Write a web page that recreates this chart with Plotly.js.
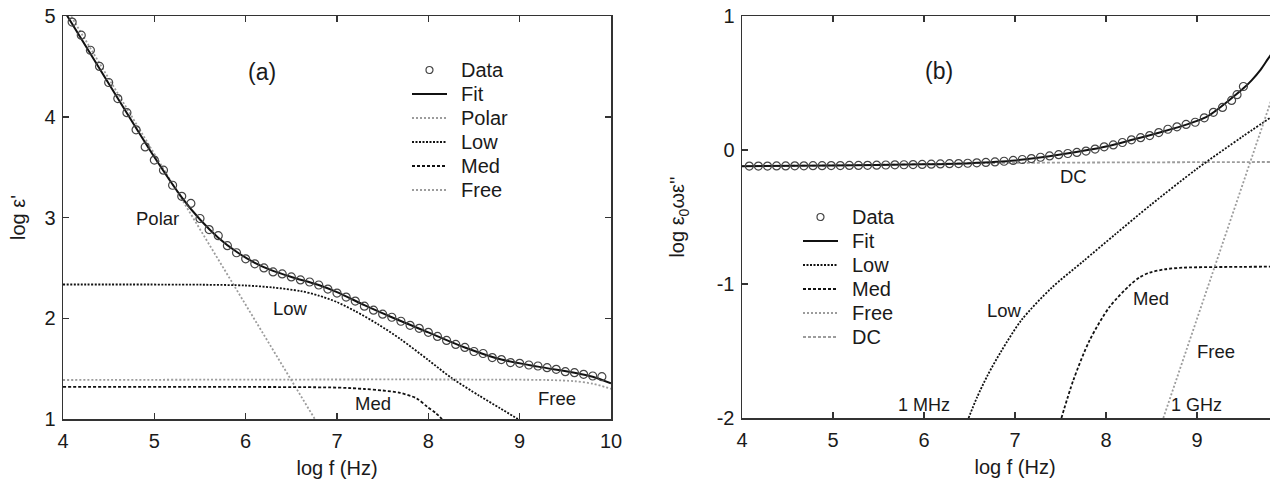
<!DOCTYPE html>
<html>
<head>
<meta charset="utf-8">
<script src="https://cdn.plot.ly/plotly-3.0.1.min.js"></script>
<style>
  html, body { margin: 0; padding: 0; background: #fff; overflow: hidden; }
  #frame { width: 1270px; height: 483px; overflow: hidden; position: relative; }
  #chart { width: 1300px; height: 483px; }
</style>
</head>
<body>
<div id="frame"><div id="chart"></div></div>
<script>
// ---------- Panel (a): real permittivity, log eps' vs log f ----------
const dataA_x = [4.1,4.2,4.3,4.4,4.5,4.6,4.7,4.8,4.9,5.0,5.1,5.2,5.3,5.4,5.5,5.6,5.7,5.8,5.9,6.0,
  6.1,6.2,6.3,6.4,6.5,6.6,6.7,6.8,6.9,7.0,7.1,7.2,7.3,7.4,7.5,7.6,7.7,7.8,7.9,8.0,
  8.1,8.2,8.3,8.4,8.5,8.6,8.7,8.8,8.9,9.0,9.1,9.2,9.3,9.4,9.5,9.6,9.7,9.8,9.9];
const dataA_y = [4.94,4.81,4.66,4.50,4.34,4.18,4.04,3.87,3.70,3.57,3.47,3.32,3.21,3.14,2.99,2.88,2.82,2.72,2.65,2.59,
  2.54,2.50,2.46,2.44,2.41,2.38,2.36,2.33,2.29,2.25,2.21,2.17,2.12,2.08,2.04,2.01,1.97,1.93,1.90,1.86,
  1.82,1.78,1.74,1.71,1.67,1.65,1.61,1.59,1.56,1.553,1.536,1.526,1.509,1.493,1.47,1.46,1.443,1.427,1.42];

const fitA_x = [4.0,4.5,5.0,5.3,5.5,5.7,5.9,6.1,6.3,6.5,6.8,7.0,7.3,7.6,8.0,8.4,8.8,9.2,9.6,9.8,10.0];
const fitA_y = [5.07,4.33,3.60,3.20,2.98,2.80,2.66,2.55,2.47,2.41,2.33,2.26,2.13,2.01,1.86,1.71,1.59,1.52,1.46,1.42,1.355];

const polarA_x = [4.0, 6.757];
const polarA_y = [5.13, 1.0];

const lowA_x = [4.0,5.5,6.0,6.3,6.6,6.8,7.0,7.2,7.45,7.7,8.0,8.25,8.56,8.78,8.98];
const lowA_y = [2.335,2.333,2.325,2.305,2.27,2.225,2.16,2.07,1.94,1.79,1.585,1.41,1.23,1.11,1.0];

const medA_x = [4.0,7.0,7.3,7.5,7.69,7.87,7.99,8.08,8.15];
const medA_y = [1.318,1.312,1.298,1.283,1.26,1.205,1.12,1.06,1.0];

const freeA_x = [4.0,9.3,9.6,9.8,10.0];
const freeA_y = [1.387,1.387,1.375,1.35,1.30];

// ---------- Panel (b): loss term, log eps0*omega*eps'' vs log f ----------
const dataB_x = [4.08,4.18,4.28,4.38,4.48,4.58,4.68,4.78,4.88,4.98,5.08,5.18,5.28,5.38,5.48,5.58,5.68,5.78,5.88,5.98,
  6.08,6.18,6.28,6.38,6.48,6.58,6.68,6.78,6.88,6.98,7.08,7.18,7.28,7.38,7.48,7.58,7.68,7.78,7.88,7.98,
  8.08,8.18,8.28,8.38,8.48,8.58,8.68,8.78,8.88,8.98,9.08,9.18,9.28,9.38,9.44,9.51];
const dataB_y = [-0.120,-0.120,-0.120,-0.119,-0.119,-0.118,-0.118,-0.117,-0.117,-0.116,-0.116,-0.115,-0.115,-0.114,-0.113,-0.112,-0.111,-0.110,-0.109,-0.108,
  -0.106,-0.104,-0.102,-0.101,-0.099,-0.096,-0.093,-0.089,-0.084,-0.078,-0.071,-0.064,-0.054,-0.044,-0.035,-0.026,-0.018,-0.008,0.007,0.024,
  0.038,0.056,0.076,0.092,0.108,0.130,0.155,0.173,0.191,0.207,0.240,0.281,0.318,0.370,0.413,0.474];

const fitB_x = [4.0,5.0,6.0,6.5,7.0,7.5,8.0,8.3,8.6,8.9,9.1,9.2,9.36,9.51,9.6,9.7,9.78,9.9,10.0];
const fitB_y = [-0.121,-0.116,-0.107,-0.098,-0.078,-0.034,0.026,0.078,0.133,0.193,0.245,0.29,0.375,0.46,0.52,0.60,0.68,0.80,0.92];

const lowB_x = [6.49,6.58,6.70,6.85,7.07,7.40,7.75,8.10,8.50,9.00,9.50,10.0];
const lowB_y = [-2.0,-1.85,-1.68,-1.50,-1.27,-1.03,-0.83,-0.63,-0.405,-0.14,0.10,0.33];

const medB_x = [7.51,7.64,7.82,8.04,8.26,8.37,8.48,8.65,8.85,9.5,10.0];
const medB_y = [-2.0,-1.72,-1.42,-1.17,-1.01,-0.95,-0.915,-0.89,-0.878,-0.872,-0.87];

const freeB_x = [8.63, 10.0];
const freeB_y = [-2.0, 0.74];

const dcB_x = [4.0,5.0,6.0,6.5,7.0,8.0,9.0,10.0];
const dcB_y = [-0.12,-0.115,-0.105,-0.099,-0.096,-0.093,-0.091,-0.089];

// legend entries and tick text
const legendA = ['Data','Fit','Polar','Low','Med','Free'];
const legendB = ['Data','Fit','Low','Med','Free','DC'];
const xTicksB = [4,5,6,7,8,9];
const yTicksB = [-2,-1,0,1];
const yTickTextB = ['-2','-1','0','1'];

// ---------- styling ----------
const W = 1300, H = 483;
const FONT = 'Liberation Sans, Arial, Helvetica, sans-serif';
const INK = '#1a1a1a';
const GREY = '#9c9c9c';
const STY = {
  Fit:   {color: '#111', width: 2, dash: 'solid'},
  Polar: {color: GREY, width: 1.8, dash: '2px,2px'},
  Low:   {color: '#111', width: 1.8, dash: '2px,1.5px'},
  Med:   {color: '#111', width: 1.8, dash: '3px,2px'},
  Free:  {color: GREY, width: 1.8, dash: '2px,2px'},
  DC:    {color: GREY, width: 1.8, dash: '3px,2px'}
};
const MARK = {symbol: 'circle-open', size: 8, color: '#444', line: {width: 1.2, color: '#444'}};

function line(x, y, name, xa, ya) {
  return {x, y, name, xaxis: xa, yaxis: ya, type: 'scatter', mode: 'lines',
          line: Object.assign({shape: 'spline', smoothing: 0.8}, STY[name]), showlegend: false, hoverinfo: 'skip'};
}
function pts(x, y, xa, ya) {
  return {x, y, name: 'Data', xaxis: xa, yaxis: ya, type: 'scatter', mode: 'markers',
          marker: MARK, showlegend: false, hoverinfo: 'skip'};
}

const traces = [
  line(polarA_x, polarA_y, 'Polar', 'x', 'y'),
  line(lowA_x, lowA_y, 'Low', 'x', 'y'),
  line(medA_x, medA_y, 'Med', 'x', 'y'),
  line(freeA_x, freeA_y, 'Free', 'x', 'y'),
  line(fitA_x, fitA_y, 'Fit', 'x', 'y'),
  pts(dataA_x, dataA_y, 'x', 'y'),
  line(dcB_x, dcB_y, 'DC', 'x2', 'y2'),
  line(lowB_x, lowB_y, 'Low', 'x2', 'y2'),
  line(medB_x, medB_y, 'Med', 'x2', 'y2'),
  line(freeB_x, freeB_y, 'Free', 'x2', 'y2'),
  line(fitB_x, fitB_y, 'Fit', 'x2', 'y2'),
  pts(dataB_x, dataB_y, 'x2', 'y2')
];

// axes shared settings
function axis(extra) {
  return Object.assign({
    showline: true, linecolor: '#333', linewidth: 1.5, mirror: 'ticks',
    ticks: 'inside', ticklen: 6, tickwidth: 1.5, tickcolor: '#333',
    showgrid: false, zeroline: false, fixedrange: true,
    tickfont: {family: FONT, size: 20, color: INK}
  }, extra);
}
const px = p => p / W;
const py = p => 1 - p / H;

// legend blocks drawn in paper space
const shapes = [];
const annotations = [];
function legendBlock(names, symL, symR, textX, rowY) {
  names.forEach((n, i) => {
    const yy = py(rowY + i * 24);
    if (n === 'Data') {
      const cx = px((symL + symR) / 2);
      shapes.push({type: 'circle', xref: 'paper', yref: 'paper', xsizemode: 'pixel', ysizemode: 'pixel',
        xanchor: cx, yanchor: yy, x0: -3.5, x1: 3.5, y0: -3.5, y1: 3.5,
        line: {color: '#444', width: 1.2}});
    } else {
      const s = STY[n];
      shapes.push({type: 'line', xref: 'paper', yref: 'paper', x0: px(symL), x1: px(symR), y0: yy, y1: yy,
        line: {color: s.color, width: s.width, dash: s.dash}});
    }
    annotations.push({xref: 'paper', yref: 'paper', x: px(textX), y: yy, xanchor: 'left', yanchor: 'middle',
      text: n, showarrow: false, font: {family: FONT, size: 20, color: INK}});
  });
}
legendBlock(legendA, 412, 447, 459, 70);
legendBlock(legendB, 803, 838, 850, 217);

// labels inside the plots
function lab(text, x, y, xa, ya, size) {
  annotations.push({xref: xa, yref: ya, x, y, text, showarrow: false,
    font: {family: FONT, size: size || 18.5, color: INK}});
}
lab('(a)', 6.18, 4.44, 'x', 'y', 23);
lab('Polar', 5.04, 2.995, 'x', 'y');
lab('Low', 6.49, 2.10, 'x', 'y');
lab('Med', 7.395, 1.156, 'x', 'y');
lab('Free', 9.41, 1.205, 'x', 'y');
lab('(b)', 6.165, 0.589, 'x2', 'y2', 23);
lab('DC', 7.64, -0.20, 'x2', 'y2');
lab('Low', 6.885, -1.196, 'x2', 'y2');
lab('Med', 8.49, -1.108, 'x2', 'y2');
lab('Free', 9.207, -1.502, 'x2', 'y2');
lab('1 MHz', 5.998, -1.90, 'x2', 'y2', 18);
lab('1 GHz', 8.998, -1.90, 'x2', 'y2', 18);

const titleFont = {family: FONT, size: 20, color: INK};
const layout = {
  width: W, height: H,
  margin: {l: 0, r: 0, t: 0, b: 0},
  paper_bgcolor: '#fff', plot_bgcolor: '#fff',
  showlegend: false,
  font: {family: FONT, color: INK},
  xaxis: axis({domain: [px(63), px(611)], range: [4, 10], tick0: 4, dtick: 1, anchor: 'y',
    ticklabelstandoff: 3, title: {text: 'log f (Hz)', font: titleFont, standoff: 10}}),
  yaxis: axis({domain: [py(419), py(16)], range: [1, 5], tick0: 1, dtick: 1, anchor: 'x',
    ticklabelstandoff: 2, title: {text: "log ε'", font: titleFont, standoff: 13}}),
  xaxis2: axis({domain: [px(742), px(1288)], range: [4, 10], tickvals: xTicksB, anchor: 'y2',
    ticklabelstandoff: 3, title: {text: 'log f (Hz)', font: titleFont, standoff: 10}}),
  yaxis2: axis({domain: [py(418), py(16)], range: [-2, 1], tickvals: yTicksB, ticktext: yTickTextB, anchor: 'x2',
    ticklabelstandoff: 2, title: {text: "log ε<sub>0</sub>ωε''", font: titleFont, standoff: 26}}),
  shapes, annotations
};

Plotly.newPlot('chart', traces, layout, {staticPlot: true, displayModeBar: false});
</script>
</body>
</html>
